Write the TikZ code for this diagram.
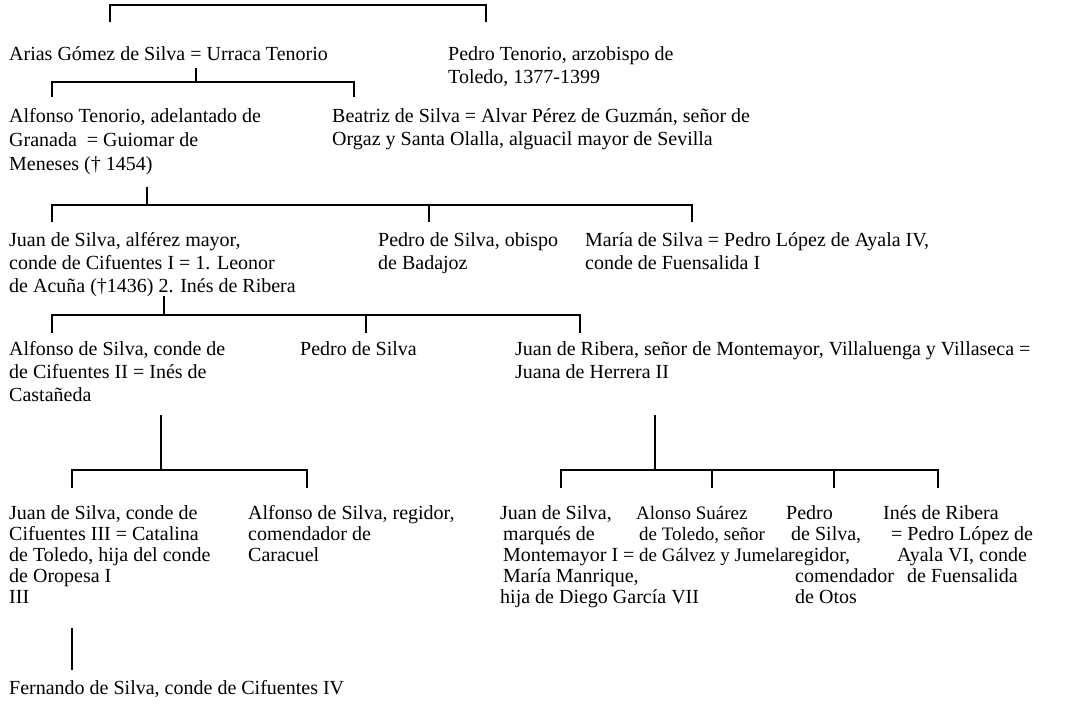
\documentclass[tikz,border=0pt]{standalone}
\usepackage{fontspec}
\setmainfont{Liberation Serif}
\newcommand\blk[1]{\begin{tabular}[t]{@{}l@{}}#1\end{tabular}}
\begin{document}
\begin{tikzpicture}[x=1pt,y=-1pt,
  person/.style={anchor=base west,inner sep=0pt,font=\fontsize{20}{23}\selectfont},
  wide/.style={font=\fontsize{20}{24}\selectfont},
  tight/.style={font=\fontsize{20}{21}\selectfont},
  narrow/.style={font=\fontsize{19}{21}\selectfont},
  link/.style={draw=black,line width=1.6pt}]
\useasboundingbox (0,0) rectangle (1067,709);
% generation 1
\node[person] (arias) at (9,60) {Arias Gómez de Silva = Urraca Tenorio};
\node[person] (pedroT) at (448,60) {\blk{Pedro Tenorio, arzobispo de\\Toledo, 1377-1399}};
% generation 2
\node[person,wide] (alfonsoT) at (9,122) {\blk{Alfonso Tenorio, adelantado de\\Granada \ = Guiomar de\\Meneses († 1454)}};
\node[person] (beatriz) at (332,122) {\blk{Beatriz de Silva = Alvar Pérez de Guzmán, señor de\\Orgaz y Santa Olalla, alguacil mayor de Sevilla}};
% generation 3
\node[person] (juanS) at (9,246) {\blk{Juan de Silva, alférez mayor,\\conde de Cifuentes I = 1. Leonor\\de Acuña (†1436) 2. Inés de Ribera}};
\node[person] (pedroO) at (378,246) {\blk{Pedro de Silva, obispo\\de Badajoz}};
\node[person] (maria) at (585,246) {\blk{María de Silva = Pedro López de Ayala IV,\\conde de Fuensalida I}};
% generation 4
\node[person] (alfonsoS) at (9,355) {\blk{Alfonso de Silva, conde de\\de Cifuentes II = Inés de\\Castañeda}};
\node[person] (pedroS) at (300,355) {Pedro de Silva};
\node[person] (juanR) at (515,355) {\blk{Juan de Ribera, señor de Montemayor, Villaluenga y Villaseca =\\Juana de Herrera II}};
% generation 5
\node[person,tight] (juanC) at (9,519) {\blk{Juan de Silva, conde de\\Cifuentes III = Catalina\\de Toledo, hija del conde\\de Oropesa I\\III}};
\node[person,tight] (alfonsoR) at (248,519) {\blk{Alfonso de Silva, regidor,\\comendador de\\Caracuel}};
\node[person,tight] (juanM) at (500,519) {\blk{Juan de Silva,\\\hspace{3pt}marqués de\\\hspace{3pt}Montemayor I =\\\hspace{3pt}María Manrique,\\hija de Diego García VII}};
\node[person,narrow] (alonso) at (636,519) {\blk{Alonso Suárez\\\hspace{3pt}de Toledo, señor\\\hspace{3pt}de Gálvez y Jumela}};
\node[person,tight] (pedroR) at (786,519) {\blk{Pedro\\\hspace{5pt}de Silva,\\\hspace{2pt}regidor,\\\hspace{9pt}comendador\\\hspace{9pt}de Otos}};
\node[person,tight] (ines) at (883,519) {\blk{Inés de Ribera\\\hspace{8pt}= Pedro López de\\\hspace{14pt}Ayala VI, conde\\\hspace{24pt}de Fuensalida}};
% generation 6
\node[person] (fernando) at (9,694) {Fernando de Silva, conde de Cifuentes IV};

% bracket points
\coordinate (t1) at (110,22);  \coordinate (t2) at (486,22);
\coordinate (s1) at (196,68);  \coordinate (b1) at (196,82);
\coordinate (s2) at (147,187); \coordinate (b2) at (147,205);
\coordinate (s3) at (164,296); \coordinate (b3) at (164,315);
\coordinate (s4) at (161,415); \coordinate (b4) at (161,470);
\coordinate (s5) at (655,415); \coordinate (b5) at (655,470);
\coordinate (s6) at (72,628);  \coordinate (b6) at (72,670);

% top bracket (parent not shown)
\draw[link] (t1) -- ++(0,-17) -| (t2);
% arias -> alfonsoT, beatriz
\draw[link] (s1) -- (b1);
\draw[link] (52,97) |- (b1) -| (354,97);
% alfonsoT -> juanS, pedroO, maria
\draw[link] (s2) -- (b2);
\draw[link] (52,222) |- (b2) -| (692,222);
\draw[link] (429,205) -- (429,222);
% juanS -> alfonsoS, pedroS, juanR
\draw[link] (s3) -- (b3);
\draw[link] (52,333) |- (b3) -| (580,333);
\draw[link] (366,315) -- (366,333);
% alfonsoS -> juanC, alfonsoR
\draw[link] (s4) -- (b4);
\draw[link] (72,488) |- (b4) -| (307,488);
% juanR -> juanM, alonso, pedroR, ines
\draw[link] (s5) -- (b5);
\draw[link] (561,488) |- (b5) -| (938,488);
\draw[link] (712,470) -- (712,488);
\draw[link] (834,470) -- (834,488);
% juanC -> fernando
\draw[link] (s6) -- (b6);
\end{tikzpicture}
\end{document}
